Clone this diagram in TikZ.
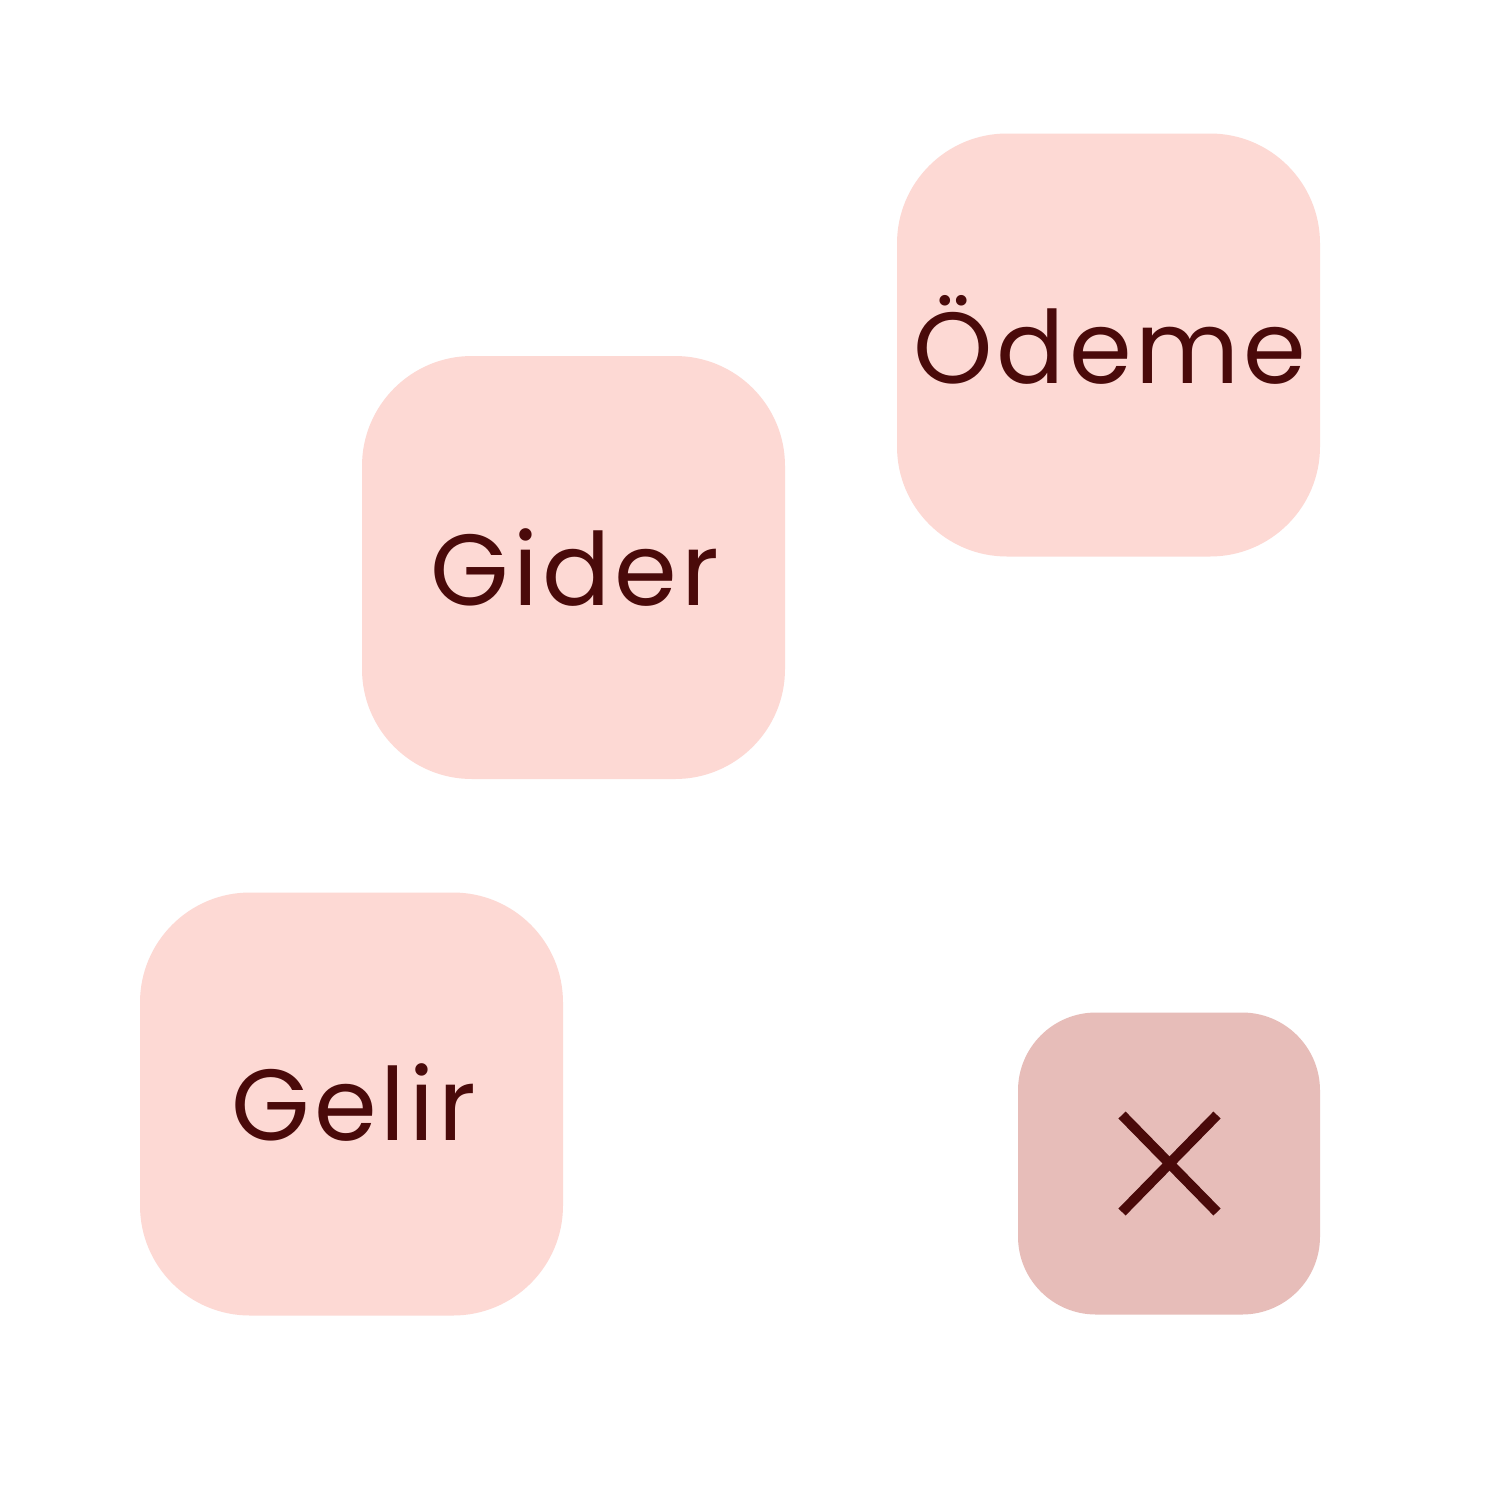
\documentclass[tikz,border=0pt]{standalone}
\usepackage{fontspec}
\setmainfont{Poppins}[LetterSpace=4]
\definecolor{boxpink}{HTML}{FDD9D4}
\definecolor{iconpink}{HTML}{E7BDB9}
\definecolor{ink}{HTML}{4A0A0A}
\tikzset{
  box/.style={draw=none, fill=boxpink, rectangle, rounded corners=110pt,
    minimum width=423pt, minimum height=423pt, inner sep=0pt},
  iconbox/.style={draw=none, fill=iconpink, rectangle, rounded corners=78pt,
    minimum width=302pt, minimum height=302pt, inner sep=0pt},
  lbl/.style={text=ink, font=\fontsize{101}{106}\selectfont, inner sep=0pt, anchor=base},
  cross/.style={draw=ink, line width=10pt}
}
\begin{document}
\begin{tikzpicture}[x=1pt,y=-1pt]
\useasboundingbox[fill=white] (0,0) rectangle (1496,1486);
\node[box] (odeme) at (1108.5,345) {};
\node[lbl] (odemelabel) at (1110,383) {Ödeme};
\node[box] (gider) at (573.5,567.5) {};
\node[lbl] (giderlabel) at (575,605) {Gider};
\node[box] (gelir) at (351.5,1104) {};
\node[lbl] (gelirlabel) at (354,1140) {Gelir};
\node[iconbox] (close) at (1169,1163.5) {};
\coordinate (c1) at (1122,1115);
\coordinate (c2) at (1217,1212);
\coordinate (c3) at (1217,1115);
\coordinate (c4) at (1122,1212);
\draw[cross] (c1) -- (c2);
\draw[cross] (c3) -- (c4);
\end{tikzpicture}
\end{document}
